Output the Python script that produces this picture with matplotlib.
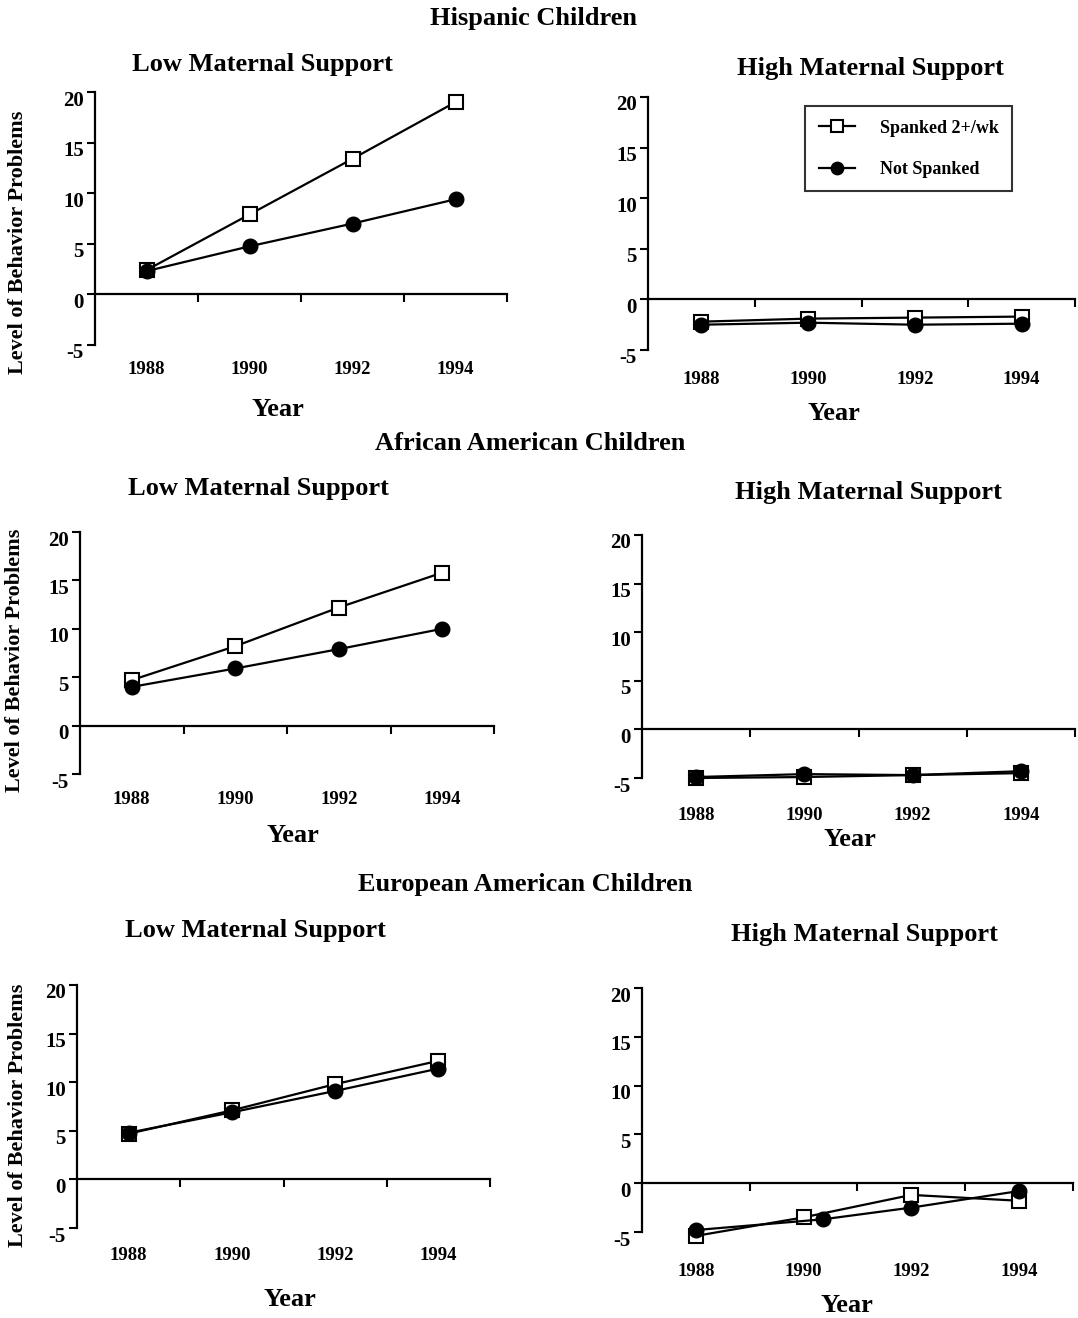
import numpy as np
import matplotlib
matplotlib.use('Agg')
from matplotlib import pyplot as plt
from matplotlib import transforms

plt.rcParams['font.family'] = ['Liberation Serif', 'DejaVu Serif']
plt.rcParams['font.weight'] = 'bold'
plt.rcParams['axes.unicode_minus'] = False

# data
years = ['1988', '1990', '1992', '1994']
x_pos = [0, 1, 2, 3]

hisp_low_spanked = [2.4, 7.9, 13.4, 19.0]
hisp_low_not = [2.3, 4.75, 7.0, 9.4]
hisp_high_spanked = [-2.2, -1.9, -1.8, -1.7]
hisp_high_not = [-2.5, -2.3, -2.5, -2.4]

afam_low_spanked = [4.7, 8.2, 12.2, 15.8]
afam_low_not = [4.0, 5.9, 7.9, 10.0]
afam_high_spanked = [-5.0, -4.9, -4.7, -4.5]
afam_high_not = [-4.9, -4.6, -4.7, -4.3]

euro_low_spanked = [4.7, 7.1, 9.8, 12.2]
euro_low_not = [4.8, 6.9, 9.1, 11.4]
euro_high_spanked = [-5.4, -3.5, -1.2, -1.8]
euro_high_not = [-4.8, -3.7, -2.5, -0.8]
euro_high_not_x = [0, 1.18, 2, 3]

W, H = 1078, 1318
fig = plt.figure(figsize=(W/100, H/100), dpi=100)


def px(x, y):
    return x/W, 1 - y/H


def panel(box, spanked, not_sp, year_gap, not_x=x_pos):
    l, t, r, b = box
    ax = fig.add_axes([l/W, 1-b/H, (r-l)/W, (b-t)/H])
    ax.plot(x_pos, spanked, '-s', color='black', lw=1.6, ms=10.5, mfc='white',
            mec='black', mew=1.5, clip_on=False, label='Spanked 2+/wk')
    ax.plot(not_x, not_sp, '-o', color='black', lw=1.6, ms=10.5,
            clip_on=False, label='Not Spanked')
    ax.set_xlim(-0.5, 3.5)
    ax.set_ylim(-5, 20)
    ax.spines['top'].set_visible(False)
    ax.spines['right'].set_visible(False)
    ax.spines['bottom'].set_position(('data', 0))
    ax.spines['left'].set_linewidth(1.6)
    ax.spines['bottom'].set_linewidth(1.6)
    ax.set_xticks([0.5, 1.5, 2.5, 3.5])
    ax.set_xticklabels([])
    ax.set_yticks([-5, 0, 5, 10, 15, 20])
    ax.tick_params(direction='out', length=6, width=1.5, labelsize=15, pad=2)
    off = transforms.ScaledTranslation(0, -6/100, fig.dpi_scale_trans)
    for tk in ax.yaxis.get_major_ticks():
        tk.label1.set_transform(tk.label1.get_transform() + off)
    for i, yr in enumerate(years):
        ax.text(x_pos[i], -year_gap/(b-t), yr, transform=ax.get_xaxis_transform(),
                ha='center', va='center', fontsize=13.5, fontweight='bold')
    return ax


ax1 = panel((95, 92, 507, 345), hisp_low_spanked, hisp_low_not, 25)
ax2 = panel((648, 97, 1075, 350), hisp_high_spanked, hisp_high_not, 30)
ax3 = panel((80, 532, 494, 774), afam_low_spanked, afam_low_not, 26)
ax4 = panel((642, 535, 1075, 778), afam_high_spanked, afam_high_not, 37)
ax5 = panel((77, 985, 490, 1228), euro_low_spanked, euro_low_not, 27)
ax6 = panel((642, 988, 1073, 1232), euro_high_spanked, euro_high_not, 39, euro_high_not_x)

leg = ax2.legend(loc='upper left', bbox_to_anchor=px(805, 106), bbox_transform=fig.transFigure,
                 frameon=True, fancybox=False, edgecolor='black', fontsize=13,
                 borderpad=0.75, handlelength=2.0, handletextpad=1.4, labelspacing=1.35,
                 markerscale=0.85, borderaxespad=0)
leg.get_frame().set_linewidth(1.5)

# group titles
fig.text(*px(533, 19), 'Hispanic Children', ha='center', va='center', fontsize=19)
fig.text(*px(530, 443), 'African American Children', ha='center', va='center', fontsize=19)
fig.text(*px(525, 885), 'European American Children', ha='center', va='center', fontsize=19)

for (x, y), s in [((262, 64), 'Low Maternal Support'), ((870, 69), 'High Maternal Support'),
                  ((258, 489), 'Low Maternal Support'), ((868, 493), 'High Maternal Support'),
                  ((255, 930), 'Low Maternal Support'), ((864, 934), 'High Maternal Support')]:
    fig.text(*px(x, y), s, ha='center', va='center', fontsize=19)

for x, y in [(278, 410), (834, 414), (293, 836), (850, 840), (290, 1300), (847, 1305)]:
    fig.text(*px(x, y), 'Year', ha='center', va='center', fontsize=19)

for x, y in [(18, 242), (15, 660), (18, 1115)]:
    fig.text(*px(x, y), 'Level of Behavior Problems', ha='center', va='center',
             rotation=90, fontsize=16)

fig.savefig('out.png', dpi=100)
